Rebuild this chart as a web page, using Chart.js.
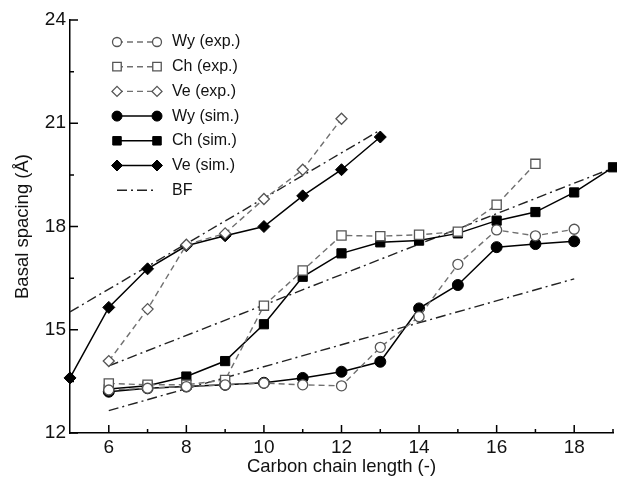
<!DOCTYPE html>
<html>
<head>
<meta charset="utf-8">
<script src="https://cdn.jsdelivr.net/npm/chart.js@4.4.1/dist/chart.umd.min.js"></script>
<style>
  html, body { margin: 0; padding: 0; background: #fff; }
  #wrap { width: 617px; height: 479px; }
</style>
</head>
<body>
<div id="wrap"><canvas id="basal"></canvas></div>
<script>
// carbon chain length (x) vs basal spacing in Å (y)
const wyX = [6, 7, 8, 9, 10, 11, 12, 13, 14, 15, 16, 17, 18];
const wyExp = [13.25, 13.3, 13.35, 13.4, 13.45, 13.4, 13.37, 14.49, 15.38, 16.9, 17.9, 17.73, 17.92];
const wySim = [13.2, 13.3, 13.35, 13.4, 13.46, 13.6, 13.78, 14.07, 15.62, 16.3, 17.4, 17.49, 17.57];

const chExpX = [6, 7, 8, 9, 10, 11, 12, 13, 14, 15, 16, 17];
const chExp = [13.44, 13.4, 13.4, 13.54, 15.7, 16.72, 17.74, 17.72, 17.76, 17.85, 18.63, 19.82];
const chSimX = [6, 7, 8, 9, 10, 11, 12, 13, 14, 15, 16, 17, 18, 19];
const chSim = [13.28, 13.37, 13.64, 14.09, 15.16, 16.54, 17.22, 17.54, 17.59, 17.8, 18.17, 18.42, 18.99, 19.72];

const veExpX = [6, 7, 8, 9, 10, 11, 12];
const veExp = [14.09, 15.6, 17.47, 17.8, 18.8, 19.65, 21.13];
const veSimX = [5, 6, 7, 8, 9, 10, 11, 12, 13];
const veSim = [13.6, 15.65, 16.77, 17.44, 17.73, 18.0, 18.89, 19.65, 20.6];

// best fit lines (end points)
const wyFitX = [6, 18];
const wyFit = [12.65, 16.48];
const chFitX = [6, 19];
const chFit = [13.95, 19.7];
const veFitX = [5, 13];
const veFit = [15.52, 20.8];

const xTicks = [6, 8, 10, 12, 14, 16, 18];
const xMinor = [7, 9, 11, 13, 15, 17, 19];
const yTicks = [12, 15, 18, 21, 24];
const yMinor = [13.5, 16.5, 19.5, 22.5];

const pts = (xs, ys) => xs.map((x, i) => ({ x: x, y: ys[i] }));

const expStyle = {
    borderColor: '#707070',
    borderWidth: 1.4,
    borderDash: [6, 4],
    pointBackgroundColor: '#fff',
    pointBorderColor: '#555',
    pointBorderWidth: 1.3,
};
const simStyle = {
    borderColor: '#000',
    borderWidth: 1.5,
    pointBackgroundColor: '#000',
    pointBorderColor: '#000',
    pointBorderWidth: 1,
};
const fitStyle = {
    borderColor: '#222',
    borderWidth: 1.4,
    borderDash: [10, 4, 2, 4],
    pointRadius: 0,
    pointStyle: false,
};

const datasets = [
    { label: 'Wy (exp.)', data: pts(wyX, wyExp), ...expStyle, pointStyle: 'circle', pointRadius: 5 },
    { label: 'Ch (exp.)', data: pts(chExpX, chExp), ...expStyle, pointStyle: 'rect', pointRadius: 6.5 },
    { label: 'Ve (exp.)', data: pts(veExpX, veExp), ...expStyle, pointStyle: 'rectRot', pointRadius: 5.5 },
    { label: 'Wy (sim.)', data: pts(wyX, wySim), ...simStyle, pointStyle: 'circle', pointRadius: 5.5 },
    { label: 'Ch (sim.)', data: pts(chSimX, chSim), ...simStyle, pointStyle: 'rect', pointRadius: 6.5 },
    { label: 'Ve (sim.)', data: pts(veSimX, veSim), ...simStyle, pointStyle: 'rectRot', pointRadius: 6 },
    { label: 'BF', data: pts(wyFitX, wyFit), ...fitStyle },
    { label: 'BF', data: pts(chFitX, chFit), ...fitStyle, inLegend: false },
    { label: 'BF', data: pts(veFitX, veFit), ...fitStyle, inLegend: false },
];
datasets.forEach(ds => { ds.clip = false; ds.tension = 0; });

// ticks pointing into the plot, major and minor
const inwardTicks = {
    id: 'inwardTicks',
    afterDraw(chart) {
        const { ctx, chartArea: a, scales: { x, y } } = chart;
        ctx.save();
        ctx.strokeStyle = '#000';
        ctx.lineWidth = 1.5;
        ctx.setLineDash([]);
        ctx.beginPath();
        xTicks.forEach(v => { const p = x.getPixelForValue(v); ctx.moveTo(p, a.bottom); ctx.lineTo(p, a.bottom - 8); });
        xMinor.forEach(v => { const p = x.getPixelForValue(v); ctx.moveTo(p, a.bottom); ctx.lineTo(p, a.bottom - 4); });
        yTicks.forEach(v => { const p = y.getPixelForValue(v); ctx.moveTo(a.left, p); ctx.lineTo(a.left + 8, p); });
        yMinor.forEach(v => { const p = y.getPixelForValue(v); ctx.moveTo(a.left, p); ctx.lineTo(a.left + 4, p); });
        ctx.stroke();
        ctx.restore();
    }
};

// legend with a line segment and a marker at both ends
const lineLegend = {
    id: 'lineLegend',
    afterDatasetsDraw(chart) {
        const { ctx, chartArea: a } = chart;
        const x1 = a.left + 47, x2 = a.left + 87, tx = a.left + 102;
        let row = 0;
        ctx.save();
        chart.data.datasets.forEach(ds => {
            if (ds.inLegend === false) return;
            const yy = a.top + 22 + row * 24.7;
            ctx.strokeStyle = ds.borderColor;
            ctx.lineWidth = ds.borderWidth;
            ctx.setLineDash(ds.borderDash || []);
            ctx.beginPath();
            if (ds.pointRadius) {
                ctx.moveTo(x1, yy); ctx.lineTo(x2, yy);
            } else {
                ctx.moveTo(x1, yy); ctx.lineTo(x2 - 3, yy);
            }
            ctx.stroke();
            ctx.setLineDash([]);
            if (ds.pointRadius) {
                const o = { pointStyle: ds.pointStyle, radius: ds.pointRadius - 0.5, borderWidth: ds.pointBorderWidth, rotation: 0 };
                ctx.fillStyle = ds.pointBackgroundColor;
                ctx.strokeStyle = ds.pointBorderColor;
                ctx.lineWidth = ds.pointBorderWidth;
                Chart.helpers.drawPoint(ctx, o, x1, yy);
                Chart.helpers.drawPoint(ctx, o, x2, yy);
            }
            ctx.fillStyle = '#111';
            ctx.font = '16px "Liberation Sans", Arial, sans-serif';
            ctx.textBaseline = 'middle';
            ctx.textAlign = 'left';
            ctx.fillText(ds.label, tx, yy);
            row++;
        });
        ctx.restore();
    }
};

const font = { family: '"Liberation Sans", Arial, sans-serif' };

new Chart(document.getElementById('basal'), {
    type: 'line',
    data: { datasets: datasets },
    options: {
        responsive: true,
        maintainAspectRatio: false,
        animation: false,
        layout: { autoPadding: false, padding: { top: 20, right: 4, left: 0, bottom: 0 } },
        plugins: {
            legend: { display: false },
            tooltip: { enabled: false },
        },
        scales: {
            x: {
                type: 'linear',
                min: 5,
                max: 19,
                afterBuildTicks: s => { s.ticks = xTicks.map(v => ({ value: v })); },
                afterFit: s => { s.height = 46; s.paddingLeft = 0; s.paddingRight = 0; },
                grid: { display: false, drawTicks: false, tickLength: 0 },
                border: { display: true, color: '#000', width: 1.5 },
                ticks: { color: '#111', padding: 3, font: { ...font, size: 19 } },
                title: { display: true, text: 'Carbon chain length (-)', color: '#111', padding: { top: 0, bottom: 1 }, font: { ...font, size: 18.5 } },
            },
            y: {
                min: 12,
                max: 24,
                afterBuildTicks: s => { s.ticks = yTicks.map(v => ({ value: v })); },
                afterFit: s => { s.width = 70; s.paddingTop = 0; s.paddingBottom = 0; },
                grid: { display: false, drawTicks: false, tickLength: 0 },
                border: { display: true, color: '#000', width: 1.5 },
                ticks: { color: '#111', padding: 4, font: { ...font, size: 19 } },
                title: { display: true, text: 'Basal spacing (Å)', color: '#111', padding: { top: 12, bottom: 0 }, font: { ...font, size: 18.5 } },
            },
        },
    },
    plugins: [inwardTicks, lineLegend],
});
</script>
</body>
</html>
